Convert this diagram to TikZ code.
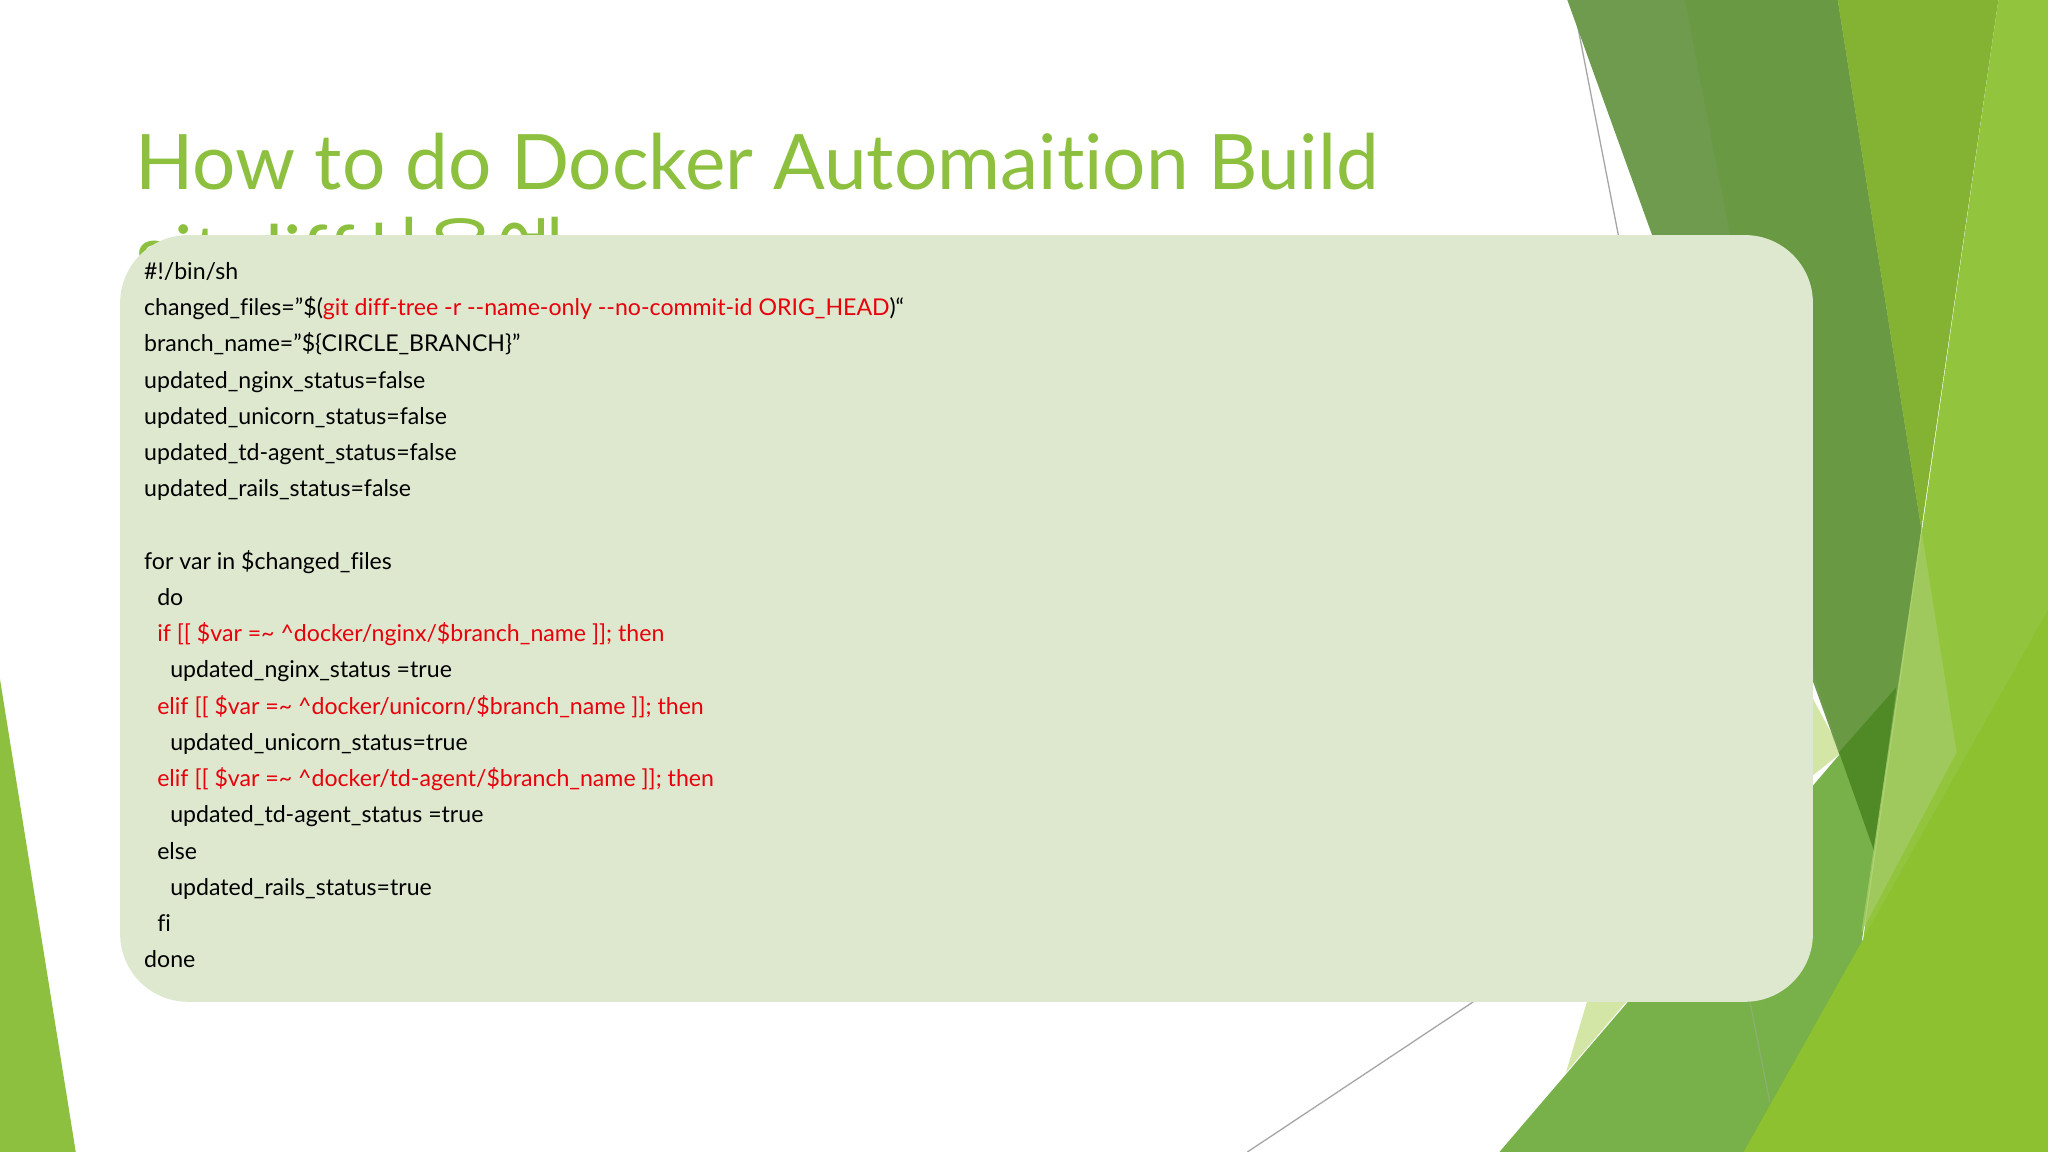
\documentclass[tikz,border=0pt]{standalone}
\usepackage{fontspec}
\setmainfont{Lato}[Ligatures={NoCommon}]
\newfontfamily\krfont{Noto Sans CJK KR}
\definecolor{ttl}{HTML}{8CC03E}
\definecolor{boxc}{HTML}{DDE8CF}
\definecolor{codered}{HTML}{E8000B}
\definecolor{dkg}{HTML}{6F9B4E}
\definecolor{dkg2}{HTML}{6A9944}
\definecolor{lime}{HTML}{84B232}
\definecolor{lime2}{HTML}{93C43D}
\definecolor{midg}{HTML}{78B04A}
\definecolor{brig}{HTML}{8DC12F}
\definecolor{deep}{HTML}{4F8A26}
\definecolor{lgt}{HTML}{A2CB62}
\definecolor{pale}{HTML}{D3E6A6}
\tikzset{
  code/.style={anchor=base west, inner sep=0pt, font=\fontsize{8.85pt}{10pt}\selectfont, text=black},
  red/.style={text=codered},
  gline/.style={draw=gray!70, line width=0.5pt}
}
\newcommand{\dol}{\$}
\newcommand{\qq}{\char"22\relax}
\begin{document}
\begin{tikzpicture}[x=0.5pt,y=-0.5pt]
\useasboundingbox (0,0) rectangle (1568,882);
\fill[white] (0,0) rectangle (1568,882);
% background shapes
\draw[gline] (1204,0) -- (1240,185);
\draw[gline] (955,882) -- (1128,767);
\fill[pale] (1245,767) -- (1199,821) -- (1215,767) -- cycle;
\fill[pale] (1380,520) -- (1410,576) -- (1380,600) -- cycle;
\fill[dkg] (1200,0) -- (1407,0) -- (1471,405) -- (1435,652) -- cycle;
\fill[dkg2] (1290,0) -- (1407,0) -- (1471,405) -- (1435,652) -- (1390,520) -- cycle;
\fill[lime] (1407,0) -- (1530,0) -- (1471,405) -- cycle;
\fill[lime2] (1530,0) -- (1568,0) -- (1568,882) -- (1403,882) -- cycle;
\fill[midg] (1148,882) -- (1409,577) -- (1452,526) -- (1435,652) -- (1403,882) -- cycle;
\fill[deep] (1408,576) -- (1452,526) -- (1435,652) -- cycle;
\fill[lgt, opacity=0.85] (1471,405) -- (1498,576) -- (1425,714) -- cycle;
\fill[brig] (1335,882) -- (1568,467) -- (1568,882) -- cycle;
\draw[gline, draw=dkg!80] (1340,768) -- (1355,844);
\fill[ttl] (0,520) -- (0,882) -- (58,882) -- cycle;
% title
\node[anchor=base west, inner sep=0pt, text=ttl, font=\fontsize{29.3pt}{34pt}\selectfont] (t1) at (103,145) {How to do Docker Automaition Build};
\node[anchor=base west, inner sep=0pt, text=ttl, font=\fontsize{29.3pt}{34pt}\selectfont] (t2) at (103,215) {git diff\krfont 사용예};
% code box
\fill[boxc, rounded corners=26pt] (92,180) rectangle (1388,767);
\node[code] (l1) at (110,214) {\#!/bin/sh};
\node[code] (l2) at (110,241.7) {changed\_files=\qq\dol(\textcolor{codered}{git diff-tree -r -{}-name-only -{}-no-commit-id ORIG\_HEAD})“};
\node[code] (l3) at (110,269.5) {branch\_name=\qq\dol\{CIRCLE\_BRANCH\}\qq};
\node[code] (l4) at (110,297.2) {updated\_nginx\_status=false};
\node[code] (l5) at (110,324.9) {updated\_unicorn\_status=false};
\node[code] (l6) at (110,352.7) {updated\_td-agent\_status=false};
\node[code] (l7) at (110,380.4) {updated\_rails\_status=false};
\node[code] (l8) at (110,435.9) {for var in \dol changed\_files};
\node[code] (l9) at (120,463.6) {do};
\node[code, red] (l10) at (120,491.3) {if [[ \dol var =\textasciitilde{} \textasciicircum docker/nginx/\dol branch\_name ]]; then};
\node[code] (l11) at (130,519.0) {updated\_nginx\_status =true};
\node[code, red] (l12) at (120,546.8) {elif [[ \dol var =\textasciitilde{} \textasciicircum docker/unicorn/\dol branch\_name ]]; then};
\node[code] (l13) at (130,574.5) {updated\_unicorn\_status=true};
\node[code, red] (l14) at (120,602.2) {elif [[ \dol var =\textasciitilde{} \textasciicircum docker/td-agent/\dol branch\_name ]]; then};
\node[code] (l15) at (130,630.0) {updated\_td-agent\_status =true};
\node[code] (l16) at (120,657.7) {else};
\node[code] (l17) at (130,685.4) {updated\_rails\_status=true};
\node[code] (l18) at (120,713.1) {f{}i};
\node[code] (l19) at (110,740.9) {done};
\end{tikzpicture}
\end{document}
